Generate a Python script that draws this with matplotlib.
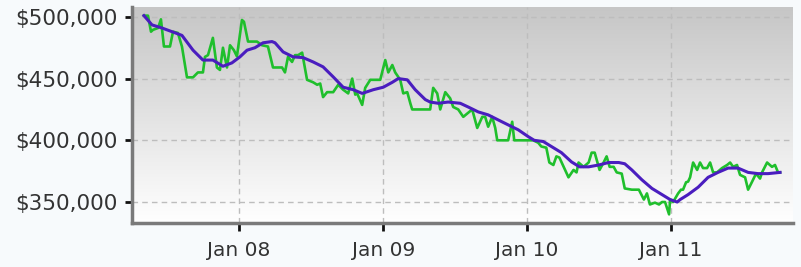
import numpy as np
import pandas as pd
import matplotlib
matplotlib.use("Agg")
import matplotlib.pyplot as plt
import matplotlib.dates as mdates
from matplotlib.ticker import FuncFormatter, FixedLocator
from matplotlib.colors import LinearSegmentedColormap

# ---- data (dates as decimal years) ----
green_t = [2007.340, 2007.368, 2007.389, 2007.403, 2007.438, 2007.458, 2007.479, 2007.521,
           2007.542, 2007.576, 2007.604, 2007.639, 2007.681, 2007.715, 2007.750, 2007.764,
           2007.785, 2007.819, 2007.847, 2007.868, 2007.889, 2007.917, 2007.938, 2007.965,
           2007.986, 2008.021, 2008.035, 2008.063, 2008.125, 2008.160, 2008.201, 2008.236,
           2008.299, 2008.319, 2008.340, 2008.368, 2008.389, 2008.410, 2008.438, 2008.472,
           2008.514, 2008.542, 2008.563, 2008.583, 2008.611, 2008.653, 2008.688, 2008.722,
           2008.757, 2008.785, 2008.806, 2008.819, 2008.854, 2008.875, 2008.910, 2008.979,
           2009.014, 2009.035, 2009.063, 2009.083, 2009.118, 2009.139, 2009.167, 2009.188,
           2009.201, 2009.326, 2009.347, 2009.375, 2009.396, 2009.431, 2009.465, 2009.486,
           2009.521, 2009.556, 2009.618, 2009.653, 2009.688, 2009.708, 2009.729, 2009.757,
           2009.778, 2009.792, 2009.868, 2009.896, 2009.910, 2010.042, 2010.077, 2010.098,
           2010.133, 2010.154, 2010.182, 2010.203, 2010.224, 2010.259, 2010.287, 2010.322,
           2010.343, 2010.357, 2010.392, 2010.427, 2010.448, 2010.469, 2010.503, 2010.531,
           2010.552, 2010.573, 2010.601, 2010.622, 2010.657, 2010.678, 2010.727, 2010.776,
           2010.811, 2010.832, 2010.853, 2010.888, 2010.916, 2010.937, 2010.958, 2010.986,
           2010.993, 2011.014, 2011.049, 2011.069, 2011.083, 2011.104, 2011.118, 2011.132,
           2011.153, 2011.181, 2011.201, 2011.222, 2011.250, 2011.271, 2011.292, 2011.319,
           2011.354, 2011.389, 2011.410, 2011.431, 2011.458, 2011.479, 2011.514, 2011.535,
           2011.563, 2011.590, 2011.618, 2011.632, 2011.667, 2011.701, 2011.722, 2011.743,
           2011.757]
green_v = [501000, 501000, 488000, 489500, 491000, 498000, 476000, 476000,
           488000, 487000, 476000, 451000, 451000, 455000, 455000, 467600,
           469000, 483000, 459000, 457000, 475000, 459000, 477000, 473000,
           468000, 497500, 496000, 480000, 480000, 477000, 476000, 459000,
           459000, 455000, 467600, 463500, 469000, 469000, 471000, 449000,
           447000, 445000, 446000, 435000, 439000, 439000, 445000, 441000,
           438000, 450000, 437000, 438000, 428700, 442500, 449000, 449000,
           465000, 455000, 461000, 455000, 449000, 438000, 439000, 430000,
           425000, 425000, 442500, 438000, 425000, 439000, 434000, 427000,
           425000, 419000, 425000, 410000, 419000, 419000, 411000, 419000,
           410000, 400000, 400000, 415000, 400000, 400000, 398000, 395000,
           394000, 382000, 380000, 387000, 386000, 377000, 370000, 376000,
           374000, 382000, 378500, 382000, 390000, 390000, 376000, 382000,
           387000, 378500, 378500, 374000, 373000, 361000, 360000, 360000,
           352000, 357000, 348000, 349500, 348000, 350000, 350000, 340000,
           352000, 350000, 357000, 360000, 360000, 366000, 366500, 370000,
           382000, 376000, 382000, 377500, 377500, 382000, 374000, 374000,
           377500, 380000, 382000, 378500, 380000, 372000, 370000, 360000,
           366500, 373000, 369000, 374000, 382000, 378500, 380000, 374000,
           374000]

purple_t = [2007.340, 2007.396, 2007.465, 2007.535, 2007.604, 2007.681, 2007.750, 2007.819,
            2007.889, 2007.951, 2008.007, 2008.056, 2008.111, 2008.167, 2008.229, 2008.250,
            2008.306, 2008.375, 2008.444, 2008.514, 2008.583, 2008.653, 2008.722, 2008.792,
            2008.854, 2008.931, 2009.000, 2009.063, 2009.104, 2009.167, 2009.222, 2009.292,
            2009.326, 2009.382, 2009.451, 2009.535, 2009.590, 2009.660, 2009.729, 2009.799,
            2009.868, 2009.938, 2010.007, 2010.049, 2010.112, 2010.168, 2010.238, 2010.308,
            2010.364, 2010.427, 2010.497, 2010.566, 2010.636, 2010.678, 2010.727, 2010.797,
            2010.867, 2010.937, 2010.993, 2011.042, 2011.063, 2011.118, 2011.188, 2011.257,
            2011.326, 2011.396, 2011.465, 2011.535, 2011.604, 2011.674, 2011.757]
purple_v = [501000, 493500, 491000, 488000, 485000, 473000, 465000, 465000,
            460000, 462700, 467600, 473000, 475000, 479000, 480000, 479000,
            471600, 467600, 467000, 463500, 459500, 451400, 443000, 441000,
            438000, 441000, 443000, 447000, 450000, 449000, 441000, 433000,
            431000, 430000, 431000, 430000, 427000, 423000, 420600, 416500,
            412500, 408500, 403000, 400000, 399000, 395000, 390000, 382500,
            378500, 378500, 380000, 382000, 382000, 381000, 376000, 368000,
            361000, 356000, 352000, 350000, 352000, 356000, 362000, 370000,
            374000, 377500, 377500, 374000, 373000, 373000, 374000]

y_ticks = [350000, 400000, 450000, 500000]
x_tick_years = [2008, 2009, 2010, 2011]


def to_dates(years):
    out = []
    for y in years:
        yi = int(np.floor(y))
        start = pd.Timestamp(year=yi, month=1, day=1)
        end = pd.Timestamp(year=yi + 1, month=1, day=1)
        out.append(start + (end - start) * (y - yi))
    return pd.to_datetime(out)


gx = to_dates(green_t)
px = to_dates(purple_t)

fig = plt.figure(figsize=(8.01, 2.67), dpi=100)
fig.patch.set_facecolor("#f7fafc")
ax = fig.add_axes([132 / 801, 1 - 223 / 267, (793 - 132) / 801, (223 - 7) / 267])

# gradient background
grad = np.linspace(0, 1, 256).reshape(-1, 1)
cmap = LinearSegmentedColormap.from_list("bg", ["#ffffff", "#c6c6c6"])
ax.imshow(grad, aspect="auto", cmap=cmap, origin="lower",
          extent=[0, 1, 0, 1], transform=ax.transAxes, zorder=0)

ax.plot(gx, green_v, color="#1fbf2c", lw=1.9, zorder=3)
ax.plot(px, purple_v, color="#4a1dbf", lw=2.2, zorder=4)

ax.set_ylim(333000, 508000)
ax.set_xlim(to_dates([2007.257])[0], to_dates([2011.847])[0])

ax.yaxis.set_major_locator(FixedLocator(y_ticks))
ax.yaxis.set_major_formatter(FuncFormatter(lambda v, p: "${:,.0f}".format(v)))
ax.set_xticks(to_dates(x_tick_years))
ax.xaxis.set_major_formatter(mdates.DateFormatter("%b %y"))

ax.grid(True, color="#bdbdbd", ls=(0, (4, 3)), lw=1, zorder=1)
for s in ["top", "right"]:
    ax.spines[s].set_visible(False)
for s in ["left", "bottom"]:
    ax.spines[s].set_color("#7a7a7a")
    ax.spines[s].set_linewidth(2.5)
    ax.spines[s].set_zorder(5)

ax.tick_params(axis="y", length=5, width=2, color="#111111", labelsize=15.5,
               labelcolor="#333333", pad=5)
ax.tick_params(axis="x", length=6, width=2, color="#111111", labelsize=14.5,
               labelcolor="#333333", pad=7)

fig.savefig("out.png", dpi=100, facecolor=fig.get_facecolor())
